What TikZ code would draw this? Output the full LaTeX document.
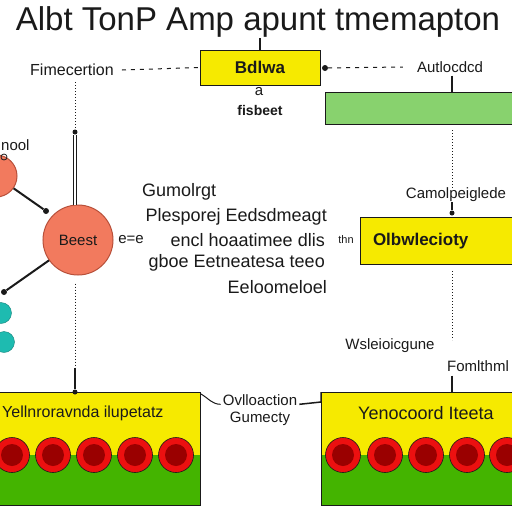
\documentclass[tikz,border=0pt]{standalone}
\usepackage{fontspec}
\setmainfont{Liberation Sans}
\usetikzlibrary{calc}
\definecolor{ybox}{HTML}{F6EA00}
\definecolor{lgreen}{HTML}{88D26E}
\definecolor{dgreen}{HTML}{44B400}
\definecolor{salmon}{HTML}{F27A5E}
\definecolor{salmonedge}{HTML}{B8503A}
\definecolor{teal}{HTML}{1EBBB0}
\definecolor{redc}{HTML}{EC1010}
\definecolor{innerred}{HTML}{9A0000}
\definecolor{ink}{HTML}{1A1A1A}
\begin{document}
\begin{tikzpicture}[x=1pt,y=-1pt,
  every node/.style={text=ink, inner sep=0pt},
  lbl/.style={font=\fontsize{15}{17}\selectfont},
  body/.style={font=\fontsize{18}{21}\selectfont},
  ybx/.style={draw=ink, line width=1pt, fill=ybox, font=\bfseries\fontsize{17}{20}\selectfont},
  conn/.style={draw=ink, line width=1.4pt},
  dotconn/.style={draw=ink, line width=1pt, dotted},
  dashconn/.style={draw=ink, line width=1pt, dash pattern=on 4pt off 5pt},
  redcirc/.style={circle, draw=ink, line width=0.6pt, fill=redc, minimum size=35pt,
    path picture={\fill[innerred] (path picture bounding box.center) circle (11pt);}},
  tealcirc/.style={circle, fill=teal, draw=teal!70!black, minimum size=21pt},
  enddot/.style={circle, fill=ink, minimum size=5pt}
]
\useasboundingbox (0,0) rectangle (512,512);
\fill[white] (0,0) rectangle (512,512);

% title
\node[font=\fontsize{33}{36}\selectfont] (title) at (258,22) {Albt TonP Amp apunt tmemapton};

% top box
\node[ybx, minimum width=120pt, minimum height=35pt] (top) at (260,67.5) {Bdlwa};
\draw[conn] (top.north) -- (top.north |- title.south);

\node[lbl, font=\fontsize{16}{18}\selectfont] (lblA) at (72,70) {Fimecertion};
\path (lblA.east) ++(8,0) coordinate (lA);
\draw[dashconn] (lA) -- (top.west);
\node[lbl] (lblB) at (450,67) {Autlocdcd};
\node[enddot, minimum size=6pt] (dB) at (325,68) {};
\draw[dashconn] (dB) -- ($(lblB.west)+(-14,0)$);
\node[lbl] (ta) at (259,92) {a};
\node[lbl, font=\bfseries\fontsize{14}{16}\selectfont] (tb) at (260,110) {fisbeet};

% green box
\node[draw=ink, line width=1pt, fill=lgreen, minimum width=200pt, minimum height=32pt, anchor=north west] (gbox) at (325,92) {};
\draw[conn, line width=2.5pt] (lblB.south -| 452,0) ++(0,3) -- (gbox.north -| 452,0);
\node[lbl] (lblC) at (456,195) {Camolpeiglede};
\draw[dotconn] (gbox.south -| 452,0) ++(0,5) -- (lblC.north -| 452,0);

% right middle yellow box
\node[ybx, minimum width=165pt, minimum height=47pt, anchor=north west, text width=150pt, align=left] (obox) at (360,217) {\hspace*{5pt}Olbwlecioty};
\node[enddot] (dC) at (452,213) {};
\draw[conn] (lblC.south -| dC) -- (dC);
\node[font=\fontsize{11}{13}\selectfont] (thn) at (346,240) {thn};
\node[lbl] (lblD) at (390,346) {Wsleioicgune};
\node[lbl] (lblE) at (478,366) {Fomlthml};
\draw[dotconn] (obox.south -| 452,0) ++(0,6) -- (452,340);

% left column
\draw[dotconn] (lblA.south -| 75,0) ++(0,6) -- (75,128);
\node[circle, draw=salmonedge, line width=1pt, fill=salmon, minimum size=70pt, font=\fontsize{15}{17}\selectfont] (big) at (78,240) {Beest};
\node[enddot] (dtop) at (75,132) {};
\draw[conn, double, double distance=1.5pt, line width=0.8pt] (dtop) -- (big.north -| dtop);
\node[circle, draw=salmonedge, line width=1pt, fill=salmon, minimum size=42pt] (sc1) at (-4,176) {};
\node[lbl, anchor=west] (nool) at (1,145) {nool};
\node[circle, draw=ink, line width=0.8pt, minimum size=6pt] (tinyc) at (4,157) {};
\node[enddot, minimum size=6pt] (d1) at (46,211) {};
\draw[conn, line width=2pt] (sc1) -- (d1);
\node[enddot, minimum size=6pt] (d2) at (4,292) {};
\draw[conn, line width=2pt] (big) -- (d2);
\node[tealcirc] (t1) at (1,313) {};
\node[tealcirc] (t2) at (4,342) {};
\node[lbl] (eqe) at (131,240) {e=e};

% centre text block
\node[body, anchor=west] (g1) at (142,192) {Gumolrgt};
\node[body, anchor=east] (g2) at (327,217) {Plesporej Eedsdmeagt};
\node[body, anchor=east] (g3) at (325,240) {encl hoaatimee dlis};
\node[body, anchor=east] (g4) at (325,263) {gboe Eetneatesa teeo};
\node[body, anchor=east] (g5) at (327,287) {Eeloomeloel};

% bottom left box
\fill[ybox] (-5,392) rectangle (200,455);
\fill[dgreen] (-5,455) rectangle (200,505);
\node[draw=ink, line width=1pt, minimum width=205pt, minimum height=113pt, anchor=north west] (bl) at (-5,392) {};
\node[font=\fontsize{16}{19}\selectfont, anchor=west] (blt) at (2,413) {Yellnroravnda ilupetatz};
\foreach \i/\x in {1/12,2/53,3/94,4/135,5/176} \node[redcirc] (lc\i) at (\x,455) {};
\node[enddot] (dbl) at (75,392) {};
\draw[dotconn] (big.south -| 75,0) ++(0,8) -- (75,368);
\draw[conn] (75,368) -- (dbl);

% bottom right box
\fill[ybox] (321,392) rectangle (520,455);
\fill[dgreen] (321,455) rectangle (520,505);
\node[draw=ink, line width=1pt, minimum width=200pt, minimum height=113pt, anchor=north west] (br) at (321,392) {};
\node[font=\fontsize{18}{21}\selectfont, anchor=west] (brt) at (358,413) {Yenocoord Iteeta};
\foreach \i/\x in {1/343,2/385,3/426,4/467,5/507} \node[redcirc] (rc\i) at (\x,455) {};
\draw[conn, line width=2.5pt] (lblE.south -| 452,0) ++(0,4) -- (br.north -| 452,0);

% middle bottom label
\node[lbl, align=center] (mid) at (260,410) {Ovlloaction\\Gumecty};
\draw[conn, line width=1pt] (bl.north east) ++(0,2) to[out=-30,in=180] ($(mid.north west)+(-2,10)$);
\draw[conn, line width=1.5pt] ($(mid.north east)+(2,10)$) -- (br.north west |- 0,402) -- (br.north west);
\end{tikzpicture}
\end{document}
